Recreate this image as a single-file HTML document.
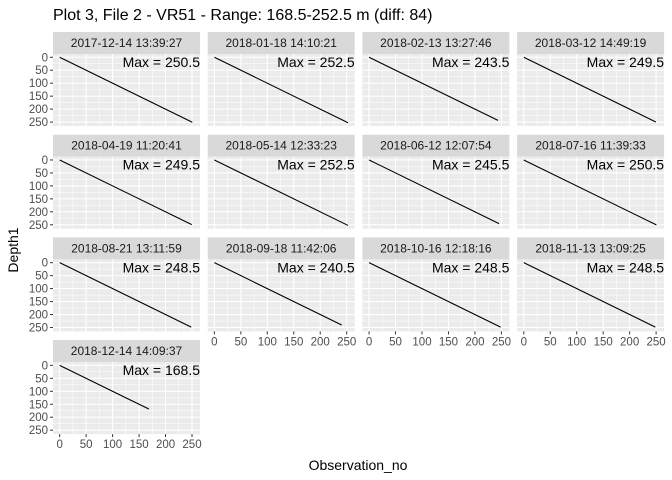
<!DOCTYPE html>
<html><head><meta charset="utf-8"><style>
body{margin:0;background:#fff;}
svg{display:block;font-family:"Liberation Sans",Arial,sans-serif;}
</style></head><body>
<svg id="c" width="672" height="480">
<text x="53" y="20" font-size="16" fill="#000">Plot 3, File 2 - VR51 - Range: 168.5-252.5 m (diff: 84)</text>
<text transform="translate(18,250) rotate(-90)" text-anchor="middle" font-size="14" fill="#000">Depth1</text>
<text x="358" y="470" text-anchor="middle" font-size="14" fill="#000">Observation_no</text>
</svg>
<script>
const labels=["2017-12-14 13:39:27","2018-01-18 14:10:21","2018-02-13 13:27:46","2018-03-12 14:49:19","2018-04-19 11:20:41","2018-05-14 12:33:23","2018-06-12 12:07:54","2018-07-16 11:39:33","2018-08-21 13:11:59","2018-09-18 11:42:06","2018-10-16 12:18:16","2018-11-13 13:09:25","2018-12-14 14:09:37"];
const maxVals=[250.5,252.5,243.5,249.5,249.5,252.5,245.5,250.5,248.5,240.5,248.5,248.5,168.5];
const ticks=[0,50,100,150,200,250];
const minorTicks=[25,75,125,175,225];
const svg=document.getElementById('c');const NS='http://www.w3.org/2000/svg';
function mk(t,a,p){const e=document.createElementNS(NS,t);for(const k in a)e.setAttribute(k,a[k]);(p||svg).appendChild(e);return e;}
const D0=-12.6,D1=265.1,PW=147,PH=72,SH=22;
labels.forEach((lab,i)=>{
 const col=i%4,row=Math.floor(i/4);
 const x0=53+col*154.7,st=32+row*102.7,y0=st+SH;
 const sx=v=>x0+(v-D0)/(D1-D0)*PW, sy=v=>y0+(v-D0)/(D1-D0)*PH;
 const g=mk('g',{});
 
 
 const s=mk('rect',{x:x0,y:st,width:PW,height:SH,fill:'#D9D9D9'},g);
 
 
 const st2=mk('text',{x:x0+PW/2,y:st+15,'text-anchor':'middle','font-size':'12',fill:'#1a1a1a'},g);st2.textContent=lab;
 
 
 const bg=mk('rect',{x:x0,y:y0,width:PW,height:PH,fill:'#EBEBEB'},g);
 
 
 minorTicks.forEach(t=>{mk('line',{x1:sx(t),x2:sx(t),y1:y0,y2:y0+PH,stroke:'#fff','stroke-width':0.5},g);mk('line',{x1:x0,x2:x0+PW,y1:sy(t),y2:sy(t),stroke:'#fff','stroke-width':0.5},g);});
 ticks.forEach(t=>{mk('line',{x1:sx(t),x2:sx(t),y1:y0,y2:y0+PH,stroke:'#fff','stroke-width':1.1},g);mk('line',{x1:x0,x2:x0+PW,y1:sy(t),y2:sy(t),stroke:'#fff','stroke-width':1.1},g);});
 if(col===0){ticks.forEach(t=>{mk('line',{x1:x0-3,x2:x0,y1:sy(t),y2:sy(t),stroke:'#333'},g);const tl=mk('text',{x:x0-5,y:sy(t)+4,'text-anchor':'end','font-size':'11.5',fill:'#4d4d4d'},g);tl.textContent=t;
  
  });}
 if(i>=9||i===12){ticks.forEach(t=>{mk('line',{x1:sx(t),x2:sx(t),y1:y0+PH,y2:y0+PH+3,stroke:'#333'},g);const tl=mk('text',{x:sx(t),y:y0+PH+14,'text-anchor':'middle','font-size':'11.5',fill:'#4d4d4d'},g);tl.textContent=t;
  
  });}
 const m=maxVals[i];
 const ln=mk('line',{x1:sx(0),y1:sy(0),x2:sx(m),y2:sy(m),stroke:'#000','stroke-width':1.1},g);
 
 
 const mt=mk('text',{x:x0+PW,y:y0+13,'text-anchor':'end','font-size':'14',fill:'#000'},g);mt.textContent='Max = '+m;
 
 
});
</script>
</body></html>
